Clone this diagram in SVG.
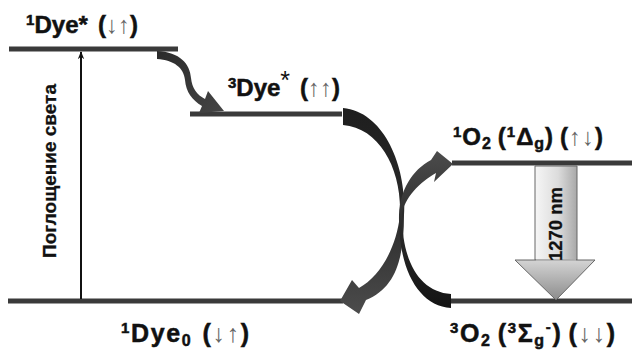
<svg xmlns="http://www.w3.org/2000/svg" width="632" height="352" viewBox="0 0 632 352">
<style>
.lvl{stroke:#3a3a3a;stroke-width:5;fill:none}
.lbl{font-family:"Liberation Sans",Arial,sans-serif;font-weight:bold;font-size:24px;fill:#111;stroke:#111;stroke-width:0.5}
.big{font-size:25px}
.sup{font-size:15px}
.sub{font-size:16px}
.ar{font-weight:normal;fill:#666;stroke:none}
.rot{font-family:"Liberation Sans",Arial,sans-serif;font-weight:bold;font-size:19px;fill:#111;stroke:#111;stroke-width:0.3}
.num{font-family:"Liberation Sans",Arial,sans-serif;font-weight:bold;font-size:18.5px;fill:#111;stroke:#111;stroke-width:0.3}
</style>
<defs>
<marker id="ah" viewBox="0 0 10 10" refX="9" refY="5" markerWidth="8" markerHeight="8" markerUnits="userSpaceOnUse" orient="auto">
<path d="M0,1 L10,5 L0,9 L3,5 Z" fill="#111"/>
</marker>
<linearGradient id="gA" x1="0" y1="0" x2="0" y2="1">
<stop offset="0" stop-color="#1e1e1e"/><stop offset="0.5" stop-color="#2a2a2a"/><stop offset="1" stop-color="#4c4c4c"/>
</linearGradient>
<linearGradient id="gB" x1="0" y1="1" x2="0" y2="0">
<stop offset="0" stop-color="#141414"/><stop offset="0.5" stop-color="#2a2a2a"/><stop offset="1" stop-color="#4c4c4c"/>
</linearGradient>
<linearGradient id="gC" x1="0" y1="0" x2="1" y2="1">
<stop offset="0" stop-color="#2a2a2a"/><stop offset="1" stop-color="#454545"/>
</linearGradient>
<linearGradient id="gS" x1="0" y1="0" x2="1" y2="0">
<stop offset="0" stop-color="#f6f6f6"/><stop offset="0.55" stop-color="#dcdcdc"/><stop offset="1" stop-color="#a8a8a8"/>
</linearGradient>
<linearGradient id="gH" x1="0" y1="0" x2="0" y2="1">
<stop offset="0" stop-color="#d4d4d4"/><stop offset="1" stop-color="#8c8c8c"/>
</linearGradient>
</defs>

<g id="levels">
<line class="lvl" x1="9" y1="49" x2="178" y2="49"/>
<line class="lvl" x1="190" y1="114" x2="342" y2="114"/>
<line class="lvl" x1="452" y1="163" x2="632" y2="163"/>
<line class="lvl" x1="8" y1="301" x2="343" y2="301"/>
<line class="lvl" x1="451" y1="301" x2="632" y2="301"/>
</g>

<g id="connectors">
<line x1="81" y1="299" x2="81" y2="52" stroke="#111" stroke-width="2" marker-end="url(#ah)"/>
<path id="isc" fill="url(#gC)" d="M157,51 C180,52 190,64 191,78 C192,88 197,95 205,99 L208,91 L224,111 L199,113 L202,106 C192,100 186,92 185,80 C184,68 174,60 157,59 Z"/>
<path id="arrA" fill="url(#gA)" d="M343,108 C385,112 407,168 404,215 C404,258 396,288 366,300 L359,314 L340,301 L352,280 L359,288 C379,277 396,250 400,215 C402,170 380,128 343,125 Z"/>
<path id="arrB" fill="url(#gB)" d="M451,308 C418,306 398,268 399,215 C400,190 412,170 431,160 L437,151 L453,164 L434,182 L436,173 C420,182 404,198 402,215 C402,262 420,292 451,294 Z"/>
</g>

<g id="emission">
<path d="M535,166 L577,166 L577,260 L535,260 Z" fill="url(#gS)" stroke="#666" stroke-width="1"/>
<path d="M515,260 L595,260 L556,300 Z" fill="url(#gH)" stroke="#666" stroke-width="1"/>
<line x1="536" y1="260" x2="576" y2="260" stroke="#bdbdbd" stroke-width="1.5"/>
<text class="num" transform="translate(562,224) rotate(-90)" text-anchor="middle">1270 nm</text>
</g>

<g id="absorb-label">
<text class="rot" transform="translate(56,171) rotate(-90)" text-anchor="middle">Поглощение света</text>
</g>

<g id="S1">
<text class="lbl" x="26" y="33" textLength="112" lengthAdjust="spacing"><tspan class="sup" dy="-8">1</tspan><tspan dy="8">Dye*</tspan><tspan dx="10">(</tspan><tspan class="ar">↓↑</tspan>)</text>
</g>
<g id="T1">
<text class="lbl" x="228" y="96" textLength="112" lengthAdjust="spacing"><tspan class="sup" dy="-8">3</tspan><tspan dy="8">Dye</tspan><tspan font-size="25" font-weight="normal" stroke="none" dy="-7">*</tspan><tspan dx="10" dy="7">(</tspan><tspan class="ar">↑↑</tspan>)</text>
</g>
<g id="O2s">
<text class="lbl" x="453" y="145" textLength="150" lengthAdjust="spacing"><tspan class="sup" dy="-8">1</tspan><tspan dy="8">O</tspan><tspan class="sub" dy="4">2</tspan><tspan dx="6" dy="-4">(</tspan><tspan class="sup" dy="-8">1</tspan><tspan dy="8">Δ</tspan><tspan class="sub" dy="4">g</tspan><tspan dy="-4">)</tspan><tspan dx="6">(</tspan><tspan class="ar">↑↓</tspan>)</text>
</g>
<g id="S0">
<text class="lbl big" x="121" y="342" textLength="128" lengthAdjust="spacing"><tspan class="sup" dy="-9">1</tspan><tspan dy="9">Dye</tspan><tspan class="sub" dy="4">0</tspan><tspan dx="10" dy="-4">(</tspan><tspan class="ar">↓↑</tspan>)</text>
</g>
<g id="O2t">
<text class="lbl big" x="450" y="342" textLength="165" lengthAdjust="spacing"><tspan class="sup" dy="-9">3</tspan><tspan dy="9">O</tspan><tspan class="sub" dy="4">2</tspan><tspan dx="6" dy="-4">(</tspan><tspan class="sup" dy="-9">3</tspan><tspan dy="9">Σ</tspan><tspan class="sub" dy="4">g</tspan><tspan class="sup" dy="-14">-</tspan><tspan dy="10">)</tspan><tspan dx="6">(</tspan><tspan class="ar">↓↓</tspan>)</text>
</g>
</svg>
